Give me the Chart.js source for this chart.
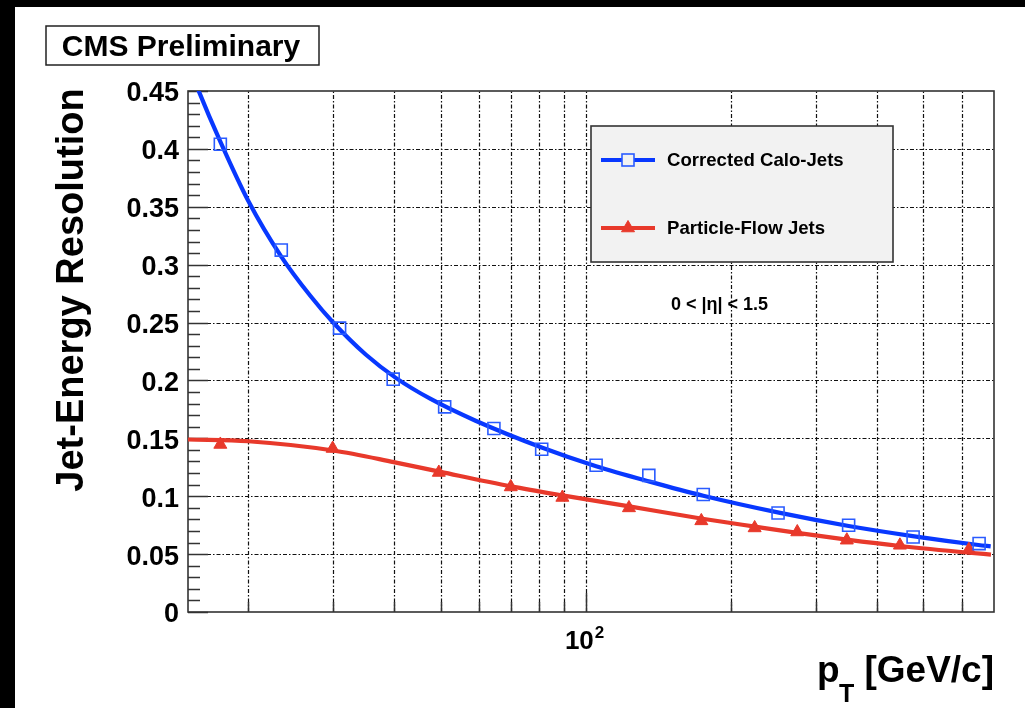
<!DOCTYPE html>
<html>
<head>
<meta charset="utf-8">
<script src="https://cdn.jsdelivr.net/npm/chart.js@4/dist/chart.umd.min.js"></script>
<style>
  html, body { margin: 0; padding: 0; background: #fff; }
  canvas { display: block; }
</style>
</head>
<body>
<canvas id="c" width="1025" height="708"></canvas>
<script>
// Corrected calorimeter jets: pT (GeV/c) and jet-energy resolution
const caloPt  = [17.5, 23.4, 30.9, 39.9, 51.0, 64.5, 81.0, 105, 135, 175, 250, 350, 476, 652];
const caloRes = [0.404, 0.3126, 0.2452, 0.2011, 0.1772, 0.1585, 0.1406, 0.1268, 0.118, 0.1015, 0.0855, 0.0749, 0.0648, 0.0591];

// Particle-flow jets
const pfPt  = [17.5, 29.9, 49.6, 69.9, 89.4, 122.8, 173.4, 223.6, 274, 347, 447, 621];
const pfRes = [0.1447, 0.1412, 0.1205, 0.108, 0.0989, 0.0899, 0.0787, 0.0726, 0.0691, 0.062, 0.0576, 0.0539];

// Fitted resolution curves, sampled along pT
const caloFitPt  = [15.2, 15.8, 17.5, 20, 23.4, 26.9, 30, 35, 40.4, 47.7, 59.1, 81, 105, 135.6, 175, 251, 350, 475, 650, 689];
const caloFitRes = [0.468, 0.4497, 0.4063, 0.355, 0.307, 0.2729, 0.2498, 0.2224, 0.2022, 0.184, 0.1652, 0.1421, 0.1259, 0.1126, 0.1004, 0.0858, 0.0743, 0.0656, 0.0579, 0.0567];
const pfFitPt  = [15, 20, 30, 40, 50, 70, 90, 123, 173, 224, 274, 347, 447, 621, 690];
const pfFitRes = [0.149, 0.1475, 0.1395, 0.1295, 0.121, 0.1085, 0.1005, 0.0912, 0.0808, 0.0737, 0.0683, 0.0625, 0.057, 0.0512, 0.0496];

// Axis ticks and grid
const yTickValues = [0, 0.05, 0.1, 0.15, 0.2, 0.25, 0.3, 0.35, 0.4, 0.45];
const yTickLabels = ['0', '0.05', '0.1', '0.15', '0.2', '0.25', '0.3', '0.35', '0.4', '0.45'];
const yMinorStep = 0.01;
const xGridValues = [20, 30, 40, 50, 60, 70, 80, 90, 100, 200, 300, 400, 500, 600];
const xLabelValue = 100;
const xLabelBase = '10', xLabelExp = '2';

const seriesNames = ['Corrected Calo-Jets', 'Particle-Flow Jets'];
const etaText = '0 < |\u03b7| < 1.5';
const headerText = 'CMS Preliminary';
const yTitle = 'Jet-Energy Resolution';

const FONT = "'Liberation Sans', Arial, Helvetica, sans-serif";
const BLUE = '#0838ff', BLUE_MK = '#2a5bff', RED = '#e8392b';

const pts = (xs, ys) => xs.map((x, i) => ({ x: x, y: ys[i] }));

const decor = {
  id: 'decor',
  beforeDraw(chart) {
    const ctx = chart.ctx;
    ctx.save();
    ctx.fillStyle = '#fff';
    ctx.fillRect(0, 0, chart.width, chart.height);
    ctx.fillStyle = '#000';
    ctx.fillRect(0, 0, chart.width, 7);
    ctx.fillRect(0, 0, 15, chart.height);
    // header box
    ctx.fillStyle = '#fff';
    ctx.fillRect(46, 26, 273, 39);
    ctx.strokeStyle = '#222';
    ctx.lineWidth = 1.5;
    ctx.strokeRect(46, 26, 273, 39);
    ctx.fillStyle = '#000';
    ctx.font = 'bold 30px ' + FONT;
    ctx.textAlign = 'center';
    ctx.textBaseline = 'alphabetic';
    ctx.fillText(headerText, 181, 56);
    ctx.restore();
  },
  beforeDatasetsDraw(chart) {
    const ctx = chart.ctx, a = chart.chartArea;
    const xs = chart.scales.x, ys = chart.scales.y;
    ctx.save();
    // dash-dot grid
    ctx.strokeStyle = '#111';
    ctx.lineWidth = 1.2;
    ctx.setLineDash([4, 2, 1.5, 2]);
    xGridValues.forEach(v => {
      const px = Math.round(xs.getPixelForValue(v)) + 0.5;
      ctx.beginPath(); ctx.moveTo(px, a.bottom); ctx.lineTo(px, a.top); ctx.stroke();
    });
    yTickValues.forEach(v => {
      if (v <= ys.min || v >= ys.max) return;
      const py = Math.round(ys.getPixelForValue(v)) + 0.5;
      ctx.beginPath(); ctx.moveTo(a.left, py); ctx.lineTo(a.right, py); ctx.stroke();
    });
    ctx.setLineDash([]);
    // tick marks
    ctx.strokeStyle = '#333';
    ctx.lineWidth = 1.5;
    for (let v = 0; v <= ys.max + 1e-9; v += yMinorStep) {
      const py = Math.round(ys.getPixelForValue(v)) + 0.5;
      const major = Math.abs(v / 0.05 - Math.round(v / 0.05)) < 1e-6;
      ctx.beginPath(); ctx.moveTo(a.left, py); ctx.lineTo(a.left + (major ? 20 : 12), py); ctx.stroke();
    }
    xGridValues.forEach(v => {
      const px = Math.round(xs.getPixelForValue(v)) + 0.5;
      const len = v === xLabelValue ? 19 : 10;
      ctx.beginPath(); ctx.moveTo(px, a.bottom); ctx.lineTo(px, a.bottom - len); ctx.stroke();
    });
    // frame
    ctx.strokeStyle = '#333';
    ctx.lineWidth = 1.6;
    ctx.strokeRect(a.left, a.top, a.right - a.left, a.bottom - a.top);
    ctx.restore();
  },
  afterDraw(chart) {
    const ctx = chart.ctx, a = chart.chartArea;
    const xs = chart.scales.x;
    ctx.save();
    // legend box
    const lx = 591, ly = 126, lw = 302, lh = 136;
    ctx.fillStyle = '#f2f2f2';
    ctx.fillRect(lx, ly, lw, lh);
    ctx.strokeStyle = '#333';
    ctx.lineWidth = 1.6;
    ctx.strokeRect(lx, ly, lw, lh);
    const ds = chart.data.datasets;
    const rows = [
      { y: 160, line: ds[2].borderColor, mk: ds[0] },
      { y: 228, line: ds[3].borderColor, mk: ds[1] }
    ];
    rows.forEach((r, i) => {
      ctx.strokeStyle = r.line;
      ctx.lineWidth = 4;
      ctx.beginPath(); ctx.moveTo(601, r.y); ctx.lineTo(655, r.y); ctx.stroke();
      ctx.fillStyle = r.mk.backgroundColor;
      ctx.strokeStyle = r.mk.borderColor;
      ctx.lineWidth = r.mk.borderWidth;
      ctx.beginPath();
      if (r.mk.pointStyle === 'rect') {
        ctx.fillStyle = '#f2f2f2';
        ctx.fillRect(622, r.y - 6, 12, 12);
        ctx.strokeRect(622, r.y - 6, 12, 12);
      } else {
        ctx.moveTo(628, r.y - 7.5); ctx.lineTo(634.5, r.y + 3.75); ctx.lineTo(621.5, r.y + 3.75); ctx.closePath();
        ctx.fill(); ctx.stroke();
      }
      ctx.fillStyle = '#000';
      ctx.font = 'bold 18.6px ' + FONT;
      ctx.textAlign = 'left';
      ctx.textBaseline = 'middle';
      ctx.fillText(seriesNames[i], 667, r.y + 1);
    });
    // eta range
    ctx.fillStyle = '#000';
    ctx.font = 'bold 18px ' + FONT;
    ctx.textAlign = 'left';
    ctx.textBaseline = 'alphabetic';
    ctx.fillText(etaText, 671, 310);
    // x tick label 10^2
    const px = xs.getPixelForValue(xLabelValue);
    ctx.font = 'bold 26px ' + FONT;
    ctx.textAlign = 'left';
    const wb = ctx.measureText(xLabelBase).width;
    ctx.fillText(xLabelBase, px - 21, 649);
    ctx.font = 'bold 17px ' + FONT;
    ctx.fillText(xLabelExp, px - 21 + wb + 1, 638);
    // x title: p_T [GeV/c]
    ctx.font = 'bold 37px ' + FONT;
    ctx.textAlign = 'right';
    ctx.fillText('[GeV/c]', a.right, 682);
    ctx.textAlign = 'left';
    ctx.fillText('p', a.right - 177, 682);
    ctx.font = 'bold 25px ' + FONT;
    ctx.fillText('T', a.right - 155, 702);
    // y title
    ctx.translate(83, 290);
    ctx.rotate(-Math.PI / 2);
    ctx.font = 'bold 38px ' + FONT;
    ctx.textAlign = 'center';
    ctx.fillText(yTitle, 0, 0);
    ctx.restore();
  }
};

new Chart(document.getElementById('c'), {
  type: 'scatter',
  data: {
    datasets: [
      {
        label: seriesNames[0], data: pts(caloPt, caloRes), showLine: false,
        pointStyle: 'rect', pointRadius: 8.5, pointHoverRadius: 8.5,
        borderColor: BLUE_MK, backgroundColor: 'rgba(0,0,0,0)', borderWidth: 1.6, order: 0
      },
      {
        label: seriesNames[1], data: pts(pfPt, pfRes), showLine: false,
        pointStyle: 'triangle', pointRadius: 7.5, pointHoverRadius: 7.5,
        borderColor: RED, backgroundColor: RED, borderWidth: 1, order: 0
      },
      {
        label: seriesNames[0] + ' fit', data: pts(caloFitPt, caloFitRes), showLine: true,
        pointRadius: 0, borderColor: BLUE, borderWidth: 4.2, fill: false,
        cubicInterpolationMode: 'monotone', clip: 0, order: 1
      },
      {
        label: seriesNames[1] + ' fit', data: pts(pfFitPt, pfFitRes), showLine: true,
        pointRadius: 0, borderColor: RED, borderWidth: 4.2, fill: false,
        cubicInterpolationMode: 'monotone', clip: 0, order: 1
      }
    ]
  },
  options: {
    responsive: false,
    animation: false,
    devicePixelRatio: 1,
    layout: { padding: { left: 0, top: 91, right: 31, bottom: 0 } },
    plugins: { legend: { display: false }, tooltip: { enabled: false } },
    scales: {
      x: {
        type: 'logarithmic', min: 15, max: 700,
        grid: { display: false }, border: { display: false },
        ticks: { display: false },
        afterFit(s) { s.height = 96; }
      },
      y: {
        type: 'linear', min: 0, max: 0.45,
        grid: { display: false, drawTicks: false }, border: { display: false },
        ticks: {
          color: '#000', padding: 9, labelOffset: 3,
          font: { family: FONT, size: 27, weight: 'bold' },
          callback: (v) => { const i = yTickValues.findIndex(t => Math.abs(t - v) < 1e-9); return i < 0 ? '' : yTickLabels[i]; }
        },
        afterBuildTicks(s) { s.ticks = yTickValues.map(v => ({ value: v })); },
        afterFit(s) { s.width = 188; }
      }
    }
  },
  plugins: [decor]
});
</script>
</body>
</html>
